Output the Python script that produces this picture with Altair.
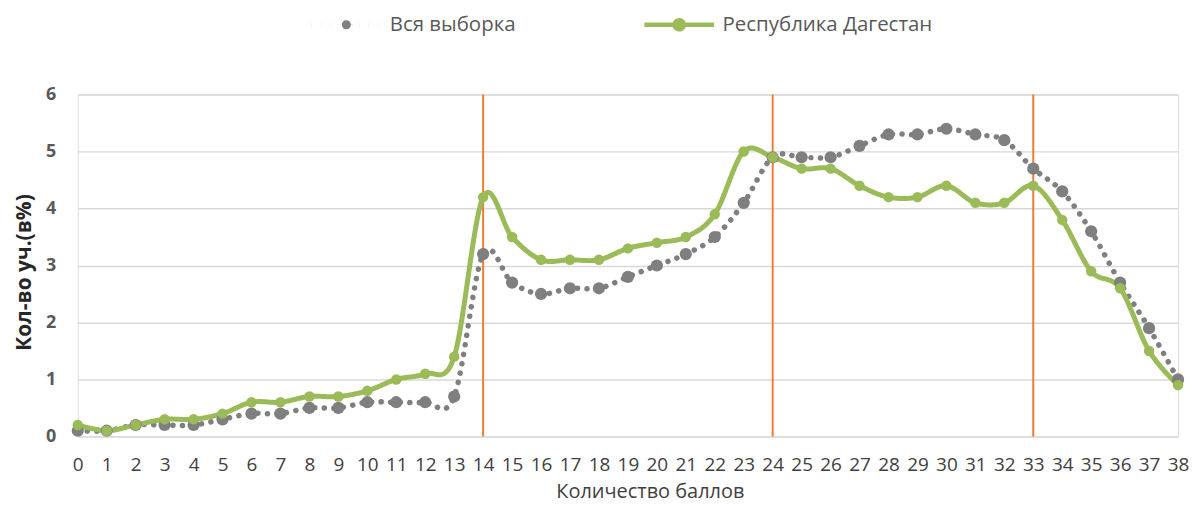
import altair as alt
import pandas as pd

scores = list(range(39))
all_sample = [0.1, 0.1, 0.2, 0.2, 0.2, 0.3, 0.4, 0.4, 0.5, 0.5, 0.6, 0.6, 0.6, 0.7,
              3.2, 2.7, 2.5, 2.6, 2.6, 2.8, 3.0, 3.2, 3.5, 4.1, 4.9, 4.9, 4.9, 5.1,
              5.3, 5.3, 5.4, 5.3, 5.2, 4.7, 4.3, 3.6, 2.7, 1.9, 1.0]
dagestan = [0.2, 0.1, 0.2, 0.3, 0.3, 0.4, 0.6, 0.6, 0.7, 0.7, 0.8, 1.0, 1.1, 1.4,
            4.2, 3.5, 3.1, 3.1, 3.1, 3.3, 3.4, 3.5, 3.9, 5.0, 4.9, 4.7, 4.7, 4.4,
            4.2, 4.2, 4.4, 4.1, 4.1, 4.4, 3.8, 2.9, 2.6, 1.5, 0.9]
series_names = ["Вся выборка", "Республика Дагестан"]
boundaries = [14, 24, 33]

df = pd.DataFrame({
    "x": scores * 2,
    "y": all_sample + dagestan,
    "series": [series_names[0]] * len(scores) + [series_names[1]] * len(scores),
    "order": [0] * len(scores) + [1] * len(scores),
})
df["grp"] = df["series"] + " "
rules_df = pd.DataFrame({"x": boundaries})

FONT = "Open Sans"
GRAY = "#7F7F7F"
GREEN = "#9BBB59"
ORANGE = "#ED7D31"

xscale = alt.Scale(domain=[0, 38], nice=False, zero=False)
yscale = alt.Scale(domain=[0, 6], nice=False)
color_scale = alt.Scale(domain=series_names, range=[GRAY, GREEN])

x_axis = alt.Axis(values=scores, title="Количество баллов", grid=False, ticks=False,
                  domain=False, labelFont=FONT, labelFontSize=19, labelColor="#404040",
                  labelPadding=19, labelOverlap=False, labelFlush=False, format="d",
                  titleFont=FONT, titleFontSize=20, titleFontWeight="normal",
                  titleColor="#404040", titlePadding=7, titleX=574)
y_axis = alt.Axis(values=[0, 1, 2, 3, 4, 5, 6], title="Кол-во уч.(в%)", grid=True,
                  format="d", gridColor="#D9D9D9", gridWidth=1.5, ticks=False,
                  domain=False, labelFont=FONT, labelFontSize=18, labelFontWeight="bold",
                  labelColor="#595959", labelPadding=22, titleFont=FONT,
                  titleFontSize=21, titleFontWeight="bold", titleColor="#262626",
                  titlePadding=11, titleY=178)

legend_symbol = ("M-1,0 L1,0 "
                 "M0.13,0 A0.13,0.13 0 1,1 -0.13,0 A0.13,0.13 0 1,1 0.13,0 "
                 "M0.06,0 A0.06,0.06 0 1,1 -0.06,0 A0.06,0.06 0 1,1 0.06,0")

legend = alt.Legend(title=None, orient="none", direction="horizontal",
                    legendX=232, legendY=-108, symbolType=legend_symbol,
                    symbolSize=4900, symbolStrokeWidth=4.5, labelLimit=400,
                    labelFont=FONT, labelFontSize=20.5, labelColor="#595959",
                    labelOffset=6, columnPadding=119)

rules = alt.Chart(rules_df).mark_rule(color=ORANGE, strokeWidth=2).encode(
    x=alt.X("x:Q", scale=xscale, axis=x_axis),
    y=alt.value(0),
    y2=alt.value(343),
)

lines = alt.Chart(df).mark_line(interpolate="cardinal", strokeCap="round").encode(
    x=alt.X("x:Q", scale=xscale, axis=x_axis),
    y=alt.Y("y:Q", scale=yscale, axis=y_axis),
    color=alt.Color("series:N", scale=color_scale, legend=legend),
    strokeDash=alt.StrokeDash("series:N", scale=alt.Scale(domain=series_names,
                              range=[[0.1, 9.5], [1, 0]]), legend=None),
    strokeWidth=alt.StrokeWidth("grp:N", scale=alt.Scale(
        domain=[s + " " for s in series_names], range=[5.5, 5]), legend=None),
    order="order:Q",
)

points = alt.Chart(df).mark_point(filled=True, shape="circle", opacity=1).encode(
    x=alt.X("x:Q", scale=xscale, axis=x_axis),
    y=alt.Y("y:Q", scale=yscale, axis=y_axis),
    color=alt.Color("series:N", scale=color_scale, legend=legend),
    size=alt.Size("grp:N", scale=alt.Scale(domain=[s + " " for s in series_names],
                                           range=[150, 110]), legend=None),
)

chart = alt.layer(rules, lines, points).properties(
    width=1104, height=343,
    autosize=alt.AutoSizeParams(type="none"),
    padding={"left": 70, "top": 86, "right": 11, "bottom": 80},
).configure_view(stroke=None).configure(background="white")

chart.save("out.html", embed_options={"renderer": "svg", "actions": False})
